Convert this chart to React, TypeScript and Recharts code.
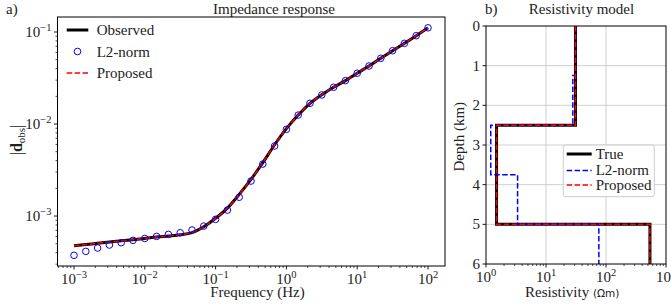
import React from 'react';
import { ComposedChart, Line, XAxis, YAxis, CartesianGrid } from 'recharts';

// ---- impedance response (panel a) ----
const freqs = [
  0.001, 0.001468, 0.002154, 0.003162, 0.004642, 0.006813,
  0.01, 0.01468, 0.02154, 0.03162, 0.04642, 0.06813,
  0.1, 0.1468, 0.2154, 0.3162, 0.4642, 0.6813,
  1, 1.468, 2.154, 3.162, 4.642, 6.813,
  10, 14.68, 21.54, 31.62, 46.42, 68.13, 100,
];
const observed = [
  0.000475, 0.00049, 0.000505, 0.000521, 0.000537, 0.000554,
  0.000571, 0.000591, 0.000607, 0.000625, 0.00066, 0.000765,
  0.000945, 0.00122, 0.00172, 0.0025, 0.0038, 0.00595,
  0.0089, 0.0125, 0.0168, 0.0208, 0.0251, 0.0296,
  0.0356, 0.0427, 0.0518, 0.0626, 0.0753, 0.0912, 0.111,
];
const l2norm = [
  0.000374, 0.000413, 0.000449, 0.000484, 0.000513, 0.000544,
  0.000571, 0.000601, 0.000632, 0.000658, 0.000705, 0.000778,
  0.00092, 0.00116, 0.0016, 0.0024, 0.00367, 0.00577,
  0.00875, 0.0125, 0.0168, 0.0207, 0.0251, 0.0296,
  0.0356, 0.0427, 0.0518, 0.0626, 0.0753, 0.0912, 0.111,
];
const proposed = [
  0.000475, 0.00049, 0.000505, 0.000521, 0.000537, 0.000554,
  0.000571, 0.000591, 0.000607, 0.000625, 0.00066, 0.000765,
  0.000945, 0.00122, 0.00172, 0.0025, 0.0038, 0.00595,
  0.0089, 0.0125, 0.0168, 0.0208, 0.0251, 0.0296,
  0.0356, 0.0427, 0.0518, 0.0626, 0.0753, 0.0912, 0.111,
];
const freqMajors = [0.001, 0.01, 0.1, 1, 10, 100];
const ampMajors = [0.001, 0.01, 0.1];

// ---- resistivity model (panel b) ----
const trueDepths = [0, 2.5, 5, 6];
const trueRho = [31, 1.5, 540];
const l2Depths = [0, 1.25, 2.5, 3.75, 5, 6];
const l2Rho = [31, 28, 1.2, 3.36, 76];
const propDepths = [0, 2.5, 5, 6];
const propRho = [31, 1.5, 540];
const depthTicks = [0, 1, 2, 3, 4, 5, 6];
const rhoMajors = [1, 10, 100, 1000];

const SERIF = '"Liberation Serif", "Times New Roman", serif';

const freqDomain = [Math.pow(10, -3.233), Math.pow(10, 2.24)];
const ampDomain = [Math.pow(10, -3.543), Math.pow(10, -0.837)];

function withMinors(majors: number[], lo: number, hi: number) {
  const out: number[] = [];
  const decades = [majors[0] / 10, ...majors];
  decades.forEach((d) => {
    for (let m = 1; m <= 9; m++) {
      const v = +(d * m).toPrecision(6);
      if (v >= lo && v <= hi) out.push(v);
    }
  });
  return out;
}

const isMajor = (v: number, majors: number[]) => majors.some((m) => Math.abs(m - v) / m < 1e-6);
const expOf = (v: number) => {
  const e = Math.round(Math.log10(v));
  return e < 0 ? '\u2212' + Math.abs(e) : String(e);
};

const makeXTick = (majors: number[]) => (props: any) => {
  const { x, y, payload } = props;
  const major = isMajor(payload.value, majors);
  return (
    <g>
      <line x1={x} x2={x} y1={y} y2={y + (major ? 3.5 : 2)} stroke="#000" strokeWidth={major ? 0.9 : 0.7} />
      {major && (
        <text x={x} y={y + 17.5} textAnchor="middle" fontFamily={SERIF} fontSize={15} fill="#222">
          10<tspan fontSize={10.5} dy={-6}>{expOf(payload.value)}</tspan>
        </text>
      )}
    </g>
  );
};

const makeLogYTick = (majors: number[]) => (props: any) => {
  const { x, y, payload } = props;
  const major = isMajor(payload.value, majors);
  return (
    <g>
      <line x1={x} x2={x - (major ? 3.5 : 2)} y1={y} y2={y} stroke="#000" strokeWidth={major ? 0.9 : 0.7} />
      {major && (
        <text x={x - 6} y={y + 5} textAnchor="end" fontFamily={SERIF} fontSize={15} fill="#222">
          10<tspan fontSize={10.5} dy={-6}>{expOf(payload.value)}</tspan>
        </text>
      )}
    </g>
  );
};

const DepthTick = (props: any) => {
  const { x, y, payload } = props;
  return (
    <g>
      <line x1={x} x2={x - 3.5} y1={y} y2={y} stroke="#000" strokeWidth={0.9} />
      <text x={x - 6} y={y + 5} textAnchor="end" fontFamily={SERIF} fontSize={15} fill="#222">
        {payload.value}
      </text>
    </g>
  );
};

function stepPath(depths: number[], rho: number[]) {
  const pts: { rho: number; depth: number }[] = [];
  rho.forEach((r, i) => {
    pts.push({ rho: r, depth: depths[i] });
    pts.push({ rho: r, depth: depths[i + 1] });
  });
  return pts;
}

export default function App() {
  const rows = freqs.map((f, i) => ({ f, obs: observed[i], l2: l2norm[i], prop: proposed[i] }));
  const freqTicks = withMinors(freqMajors, freqDomain[0], freqDomain[1]);
  const ampTicks = withMinors(ampMajors, ampDomain[0], ampDomain[1]);
  const rhoTicks = withMinors(rhoMajors, 1, 1000);

  return (
    <div style={{ position: 'absolute', left: 0, top: 0, width: 671, height: 307, background: '#fff', overflow: 'hidden' }}>
      <div style={{ position: 'absolute', left: 0, top: 0 }}>
        <ComposedChart width={460} height={307} data={rows} margin={{ top: 17, right: 15, bottom: 21, left: 0 }}>
          <XAxis
            dataKey="f"
            type="number"
            scale="log"
            domain={freqDomain}
            allowDataOverflow
            ticks={freqTicks}
            interval={0}
            height={20}
            axisLine={false}
            tickLine={false}
            tickSize={0}
            tickMargin={0}
            tick={makeXTick(freqMajors)}
          />
          <YAxis
            type="number"
            scale="log"
            domain={ampDomain}
            allowDataOverflow
            ticks={ampTicks}
            interval={0}
            width={57.5}
            axisLine={false}
            tickLine={false}
            tickSize={0}
            tickMargin={0}
            tick={makeLogYTick(ampMajors)}
          />
          <Line dataKey="obs" type="monotone" stroke="#000" strokeWidth={3} dot={false} activeDot={false} isAnimationActive={false} />
          <Line
            dataKey="l2"
            stroke="none"
            dot={{ r: 3.3, stroke: '#0000ff', strokeWidth: 1, fill: 'none' }}
            activeDot={false}
            isAnimationActive={false}
          />
          <Line dataKey="prop" type="monotone" stroke="#ff0000" strokeWidth={1.5} strokeDasharray="5.5 2.4" dot={false} activeDot={false} isAnimationActive={false} />
        </ComposedChart>
      </div>

      <div style={{ position: 'absolute', left: 440, top: 0 }}>
        <ComposedChart width={231} height={307} margin={{ top: 26, right: 5, bottom: 23, left: 0 }}>
          <CartesianGrid verticalValues={[10, 100]} horizontalValues={[1, 2, 3, 4, 5]} stroke="#c4c4c4" strokeWidth={0.8} />
          <XAxis
            dataKey="rho"
            type="number"
            scale="log"
            domain={[1, 1000]}
            allowDataOverflow
            ticks={rhoTicks}
            interval={0}
            height={20}
            axisLine={false}
            tickLine={false}
            tickSize={0}
            tickMargin={0}
            tick={makeXTick(rhoMajors)}
          />
          <YAxis
            dataKey="depth"
            type="number"
            domain={[0, 6]}
            reversed
            allowDataOverflow
            ticks={depthTicks}
            interval={0}
            width={46}
            axisLine={false}
            tickLine={false}
            tickSize={0}
            tickMargin={0}
            tick={DepthTick}
          />
          <Line data={stepPath(trueDepths, trueRho)} dataKey="depth" stroke="#000" strokeWidth={3} dot={false} activeDot={false} isAnimationActive={false} />
          <Line data={stepPath(l2Depths, l2Rho)} dataKey="depth" stroke="#0000ff" strokeWidth={1.5} strokeDasharray="5.5 2.4" dot={false} activeDot={false} isAnimationActive={false} />
          <Line data={stepPath(propDepths, propRho)} dataKey="depth" stroke="#ff0000" strokeWidth={1.5} strokeDasharray="5.5 2.4" dot={false} activeDot={false} isAnimationActive={false} />
        </ComposedChart>
      </div>

      {/* frames, titles, labels, legends */}
      <svg width={671} height={307} style={{ position: 'absolute', left: 0, top: 0, pointerEvents: 'none' }} fontFamily={SERIF} fill="#222">
        <rect x={57.5} y={17} width={387.5} height={249} fill="none" stroke="#000" strokeWidth={1} />
        <rect x={486} y={26} width={180} height={238} fill="none" stroke="#000" strokeWidth={1} />

        <text x={6} y={14} fontSize={15}>a)</text>
        <text x={274} y={14} fontSize={15} textAnchor="middle">Impedance response</text>
        <text x={257.5} y={297} fontSize={15} textAnchor="middle">Frequency (Hz)</text>
        <text x={22} y={140} fontSize={16} textAnchor="middle" transform="rotate(-90 22 140)">
          |<tspan fontWeight="bold">d</tspan><tspan fontSize={11} dy={3}>obs</tspan><tspan dy={-3}>|</tspan>
        </text>

        <text x={485} y={14} fontSize={15}>b)</text>
        <text x={581.5} y={14} fontSize={15} textAnchor="middle">Resistivity model</text>
        <text x={525} y={297} fontSize={15}>
          Resistivity <tspan fontFamily='"DejaVu Sans", sans-serif' fontSize={10.5}>(Ωm)</tspan>
        </text>
        <text x={464} y={136.7} fontSize={15} textAnchor="middle" transform="rotate(-90 464 136.7)">Depth (km)</text>

        {/* legend a */}
        <line x1={66.7} x2={88.3} y1={30} y2={30} stroke="#000" strokeWidth={3} />
        <text x={96.7} y={35} fontSize={15}>Observed</text>
        <circle cx={77.5} cy={51.5} r={3.3} fill="none" stroke="#0000ff" strokeWidth={1} />
        <text x={96.7} y={56.6} fontSize={15}>L2-norm</text>
        <line x1={66.7} x2={88.3} y1={73} y2={73} stroke="#ff0000" strokeWidth={1.5} strokeDasharray="5.5 2.4" />
        <text x={96.7} y={78} fontSize={15}>Proposed</text>

        {/* legend b */}
        <rect x={563.3} y={145} width={91} height={51.7} rx={2.5} fill="#fff" fillOpacity={0.8} stroke="#cccccc" strokeWidth={1} />
        <line x1={566.7} x2={591.7} y1={154} y2={154} stroke="#000" strokeWidth={3} />
        <text x={595.7} y={158.5} fontSize={15}>True</text>
        <line x1={566.7} x2={591.7} y1={170.5} y2={170.5} stroke="#0000ff" strokeWidth={1.5} strokeDasharray="5.5 2.4" />
        <text x={595.7} y={175} fontSize={15}>L2-norm</text>
        <line x1={566.7} x2={591.7} y1={185} y2={185} stroke="#ff0000" strokeWidth={1.5} strokeDasharray="5.5 2.4" />
        <text x={595.7} y={189.5} fontSize={15}>Proposed</text>
      </svg>
    </div>
  );
}
